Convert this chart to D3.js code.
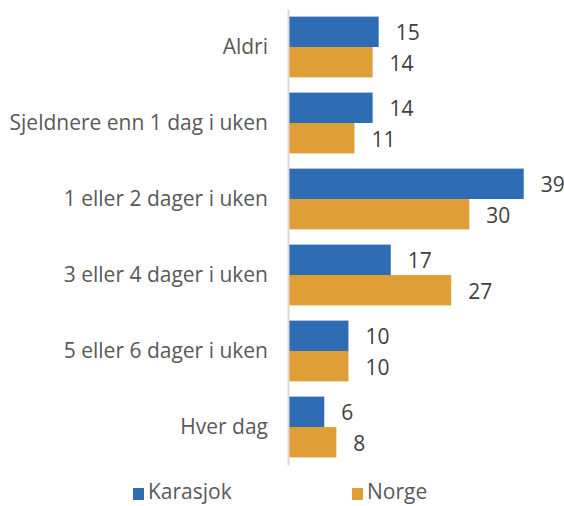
<!DOCTYPE html>
<html>
<head>
<meta charset="utf-8">
<script src="https://cdn.jsdelivr.net/npm/d3@7"></script>
<style>
  html, body { margin: 0; padding: 0; background: #fff; }
  svg { display: block; font-family: "Open Sans", "Noto Sans", sans-serif; }
</style>
</head>
<body>
<svg id="chart" width="564" height="506"></svg>
<script>
// Hvor ofte: andel (%) for Karasjok og Norge
const categories = ["Aldri", "Sjeldnere enn 1 dag i uken", "1 eller 2 dager i uken",
                    "3 eller 4 dager i uken", "5 eller 6 dager i uken", "Hver dag"];
const seriesNames = ["Karasjok", "Norge"];
const karasjok = [15, 14, 39, 17, 10, 6];
const norge = [14, 11, 30, 27, 10, 8];
const colors = ["#2E6DB4", "#E09F36"];

const svg = d3.select("#chart");
const axisX = 288;
const fontSize = 21;

const y = d3.scaleBand().domain(categories).range([9, 465])
  .paddingInner(0.2).paddingOuter(0.1);
const ySub = d3.scaleBand().domain(seriesNames).range([0, y.bandwidth()]);
const x = d3.scaleLinear().domain([0, 45]).range([axisX, axisX + 272]);

const rows = categories.map((c, i) => ({ cat: c, values: [karasjok[i], norge[i]] }));

const groups = svg.selectAll("g.group").data(rows).join("g")
  .attr("class", "group")
  .attr("transform", d => `translate(0,${y(d.cat)})`);

groups.selectAll("rect").data(d => d.values.map((v, j) => ({ v, s: seriesNames[j], j })))
  .join("rect")
  .attr("x", x(0))
  .attr("y", d => ySub(d.s))
  .attr("width", d => x(d.v) - x(0))
  .attr("height", ySub.bandwidth())
  .attr("fill", d => colors[d.j]);

groups.selectAll("text.val").data(d => d.values.map((v, j) => ({ v, s: seriesNames[j], j })))
  .join("text")
  .attr("class", "val")
  .attr("x", d => x(d.v) + 17)
  .attr("y", d => ySub(d.s) + ySub.bandwidth() / 2 + 1)
  .attr("dy", "0.35em")
  .attr("font-size", fontSize)
  .attr("fill", "#404040")
  .text(d => d.v);

// Category axis: line and labels
const yAxis = d3.axisLeft(y).tickSize(0).tickPadding(20);
const gAxis = svg.append("g").attr("transform", `translate(${axisX},0)`).call(yAxis);
gAxis.select(".domain").attr("stroke", "#D9D9D9").attr("stroke-width", 2);
gAxis.selectAll(".tick text")
  .attr("font-size", fontSize)
  .attr("font-family", "\"Open Sans\", \"Noto Sans\", sans-serif")
  .attr("fill", "#595959");

// Legend
const legendX = [133, 352];
const legend = svg.append("g");
seriesNames.forEach((name, j) => {
  legend.append("rect")
    .attr("x", legendX[j]).attr("y", 488)
    .attr("width", 11).attr("height", 12)
    .attr("fill", colors[j]);
  legend.append("text")
    .attr("x", legendX[j] + 15).attr("y", 499)
    .attr("font-size", fontSize)
    .attr("fill", "#595959")
    .text(name);
});
</script>
</body>
</html>
